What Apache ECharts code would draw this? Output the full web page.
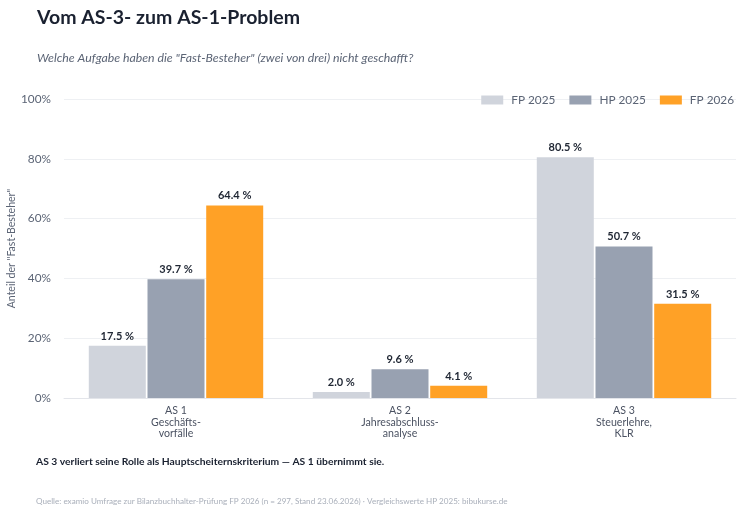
<!DOCTYPE html>
<html>
<head>
<meta charset="utf-8">
<script src="https://cdn.jsdelivr.net/npm/echarts@6/dist/echarts.min.js"></script>
<style>
  html, body { margin: 0; padding: 0; background: #fff; }
  #main { width: 750px; height: 515px; }
</style>
</head>
<body>
<div id="main"></div>
<script>
var categories = ['AS 1\nGeschäfts-\nvorfälle', 'AS 2\nJahresabschluss-\nanalyse', 'AS 3\nSteuerlehre,\nKLR'];
var seriesNames = ['FP 2025', 'HP 2025', 'FP 2026'];
var fp2025 = [17.5, 2.0, 80.5];
var hp2025 = [39.7, 9.6, 50.7];
var fp2026 = [64.4, 4.1, 31.5];
var yTicks = [0, 20, 40, 60, 80, 100];
var colors = ['#d0d4dc', '#98a1b1', '#ffa126'];

var chart = echarts.init(document.getElementById('main'));
var font = 'Lato, "Noto Sans", sans-serif';

function barSeries(name, data, color) {
  return {
    name: name,
    type: 'bar',
    data: data,
    barWidth: 57,
    barGap: '3%',
    itemStyle: { color: color },
    label: {
      show: true,
      position: 'top',
      distance: 4,
      fontFamily: font,
      fontSize: 11,
      fontWeight: 'bold',
      color: '#1f2633',
      formatter: function (p) { return p.value.toFixed(1) + ' %'; }
    }
  };
}

var option = {
  backgroundColor: '#fff',
  textStyle: { fontFamily: font },
  title: [
    {
      text: 'Vom AS-3- zum AS-1-Problem',
      left: 32, top: 3,
      textStyle: { fontFamily: font, fontSize: 19.5, fontWeight: 'bold', color: '#1a2130' }
    },
    {
      text: 'Welche Aufgabe haben die "Fast-Besteher" (zwei von drei) nicht geschafft?',
      left: 32, top: 47,
      textStyle: { fontFamily: font, fontSize: 12.3, fontStyle: 'italic', fontWeight: 'normal', color: '#5b6475' }
    },
    {
      text: 'AS 3 verliert seine Rolle als Hauptscheiternskriterium — AS 1 übernimmt sie.',
      left: 31, top: 452,
      textStyle: { fontFamily: font, fontSize: 10.3, fontWeight: 'bold', color: '#1a2130' }
    },
    {
      text: 'Quelle: examio Umfrage zur Bilanzbuchhalter-Prüfung FP 2026 (n = 297, Stand 23.06.2026) · Vergleichswerte HP 2025: bibukurse.de',
      left: 31, top: 492,
      textStyle: { fontFamily: font, fontSize: 8.1, fontWeight: 'normal', color: '#a9afba' }
    }
  ],
  legend: {
    data: seriesNames,
    right: 11, top: 89,
    itemWidth: 22, itemHeight: 9, itemGap: 14,
    icon: 'rect',
    textStyle: { fontFamily: font, fontSize: 11.8, color: '#5b6475', padding: [0, 0, 0, 3] }
  },
  grid: { left: 64, right: 14, top: 99, bottom: 117, outerBoundsMode: 'none' },
  xAxis: {
    type: 'category',
    data: categories,
    axisLine: { lineStyle: { color: '#e3e5ea' } },
    axisTick: { show: false },
    axisLabel: {
      fontFamily: font, fontSize: 10.6, color: '#4b5262',
      lineHeight: 11.5, margin: 7
    }
  },
  yAxis: {
    type: 'value',
    min: yTicks[0], max: yTicks[yTicks.length - 1], interval: 20,
    name: 'Anteil der "Fast-Besteher"',
    nameLocation: 'middle',
    nameGap: 47,
    nameMoveOverlap: false,
    nameTextStyle: { fontFamily: font, fontSize: 10.5, color: '#5b6475' },
    axisLabel: {
      fontFamily: font, fontSize: 11.8, color: '#5b6475', margin: 13,
      formatter: '{value}%'
    },
    splitLine: { lineStyle: { color: '#eef0f3' } },
    axisLine: { show: false },
    axisTick: { show: false }
  },
  series: [
    barSeries(seriesNames[0], fp2025, colors[0]),
    barSeries(seriesNames[1], hp2025, colors[1]),
    barSeries(seriesNames[2], fp2026, colors[2])
  ]
};
chart.setOption(option);
</script>
</body>
</html>
